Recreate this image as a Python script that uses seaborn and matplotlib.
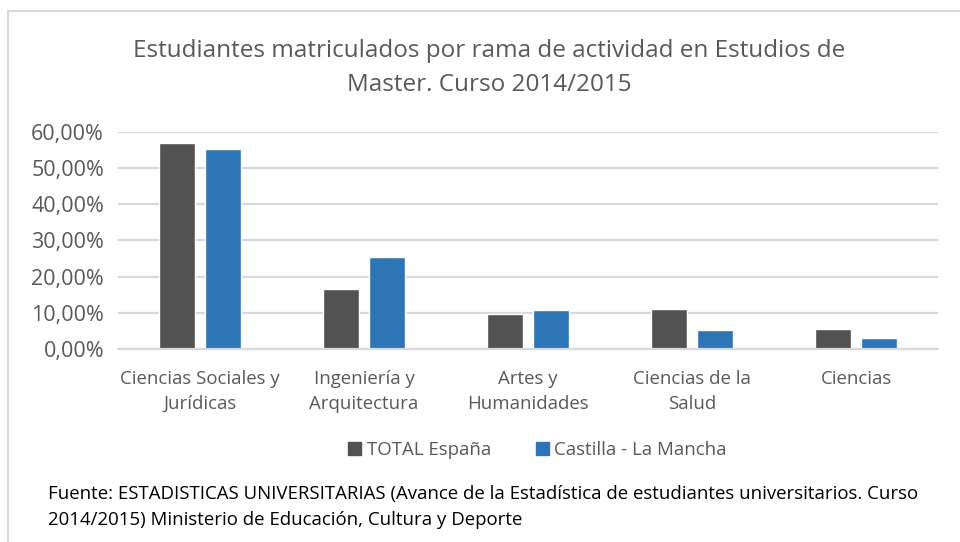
import numpy as np
import pandas as pd
import matplotlib
matplotlib.use("Agg")
import matplotlib.pyplot as plt
from matplotlib.patches import Rectangle
from matplotlib.ticker import FuncFormatter
import seaborn as sns

# ── Data ──────────────────────────────────────────────────────────────────────
categories = ["Ciencias Sociales y\nJurídicas", "Ingeniería y\nArquitectura",
              "Artes y\nHumanidades", "Ciencias de la\nSalud", "Ciencias"]
series = ["TOTAL España", "Castilla - La Mancha"]
total_espana = [56.8, 16.6, 9.8, 11.0, 5.4]
castilla_lm = [55.2, 25.4, 10.7, 5.2, 3.1]
y_ticks = [0, 10, 20, 30, 40, 50, 60]

title = ("Estudiantes matriculados por rama de actividad en Estudios de\n"
         "Master. Curso 2014/2015")
source = ("Fuente: ESTADISTICAS UNIVERSITARIAS (Avance de la Estadística de estudiantes universitarios. Curso\n"
          "2014/2015) Ministerio de Educación, Cultura y Deporte")

df = pd.DataFrame({
    "rama": categories * 2,
    "serie": [series[0]] * len(categories) + [series[1]] * len(categories),
    "valor": total_espana + castilla_lm,
})

# ── Style ─────────────────────────────────────────────────────────────────────
sns.set_theme(style="white")
plt.rcParams["font.family"] = ["Open Sans", "DejaVu Sans"]
text_col = "#595959"
grid_col = "#D9D9D9"
palette = {series[0]: "#525252", series[1]: "#2E75B6"}

fig = plt.figure(figsize=(9.6, 5.42), dpi=100)
ax = fig.add_axes([118 / 960, 1 - 349 / 542, 820 / 960, (349 - 131.7) / 542])

sns.barplot(data=df, x="rama", y="valor", hue="serie", order=categories,
            hue_order=series, palette=palette, width=0.56, gap=0.21,
            saturation=1, ax=ax, legend=False)

ax.set_ylim(0, 60)
ax.set_xlim(-0.5, len(categories) - 0.5)
ax.set_yticks(y_ticks)
ax.yaxis.set_major_formatter(FuncFormatter(lambda v, _: f"{v:.2f}%".replace(".", ",")))
ax.yaxis.grid(True, color=grid_col, lw=1.6)
ax.set_axisbelow(True)
for s in ["top", "right", "left"]:
    ax.spines[s].set_visible(False)
ax.spines["bottom"].set_color(grid_col)
ax.spines["bottom"].set_linewidth(1.6)
ax.set_xlabel("")
ax.set_ylabel("")
ax.tick_params(axis="y", labelsize=15.5, colors=text_col, length=0, pad=10)
ax.tick_params(axis="x", labelsize=13.4, colors=text_col, length=0, pad=15)
for lbl in ax.get_xticklabels():
    lbl.set_linespacing(1.5)

# title
fig.text(0.51, 1 - 68 / 542, title, ha="center", va="center", fontsize=17.5,
         color=text_col, linespacing=1.6)

# legend
handles = [Rectangle((0, 0), 1, 1, color=palette[s]) for s in series]
fig.legend(handles, series, loc="center", bbox_to_anchor=(0.56, 1 - 450 / 542),
           ncol=2, frameon=False, fontsize=13.4, labelcolor=text_col,
           handlelength=0.7, handleheight=0.7, handletextpad=0.3,
           columnspacing=2.4)

# source note
fig.text(48 / 960, 1 - 507 / 542, source, ha="left", va="center", fontsize=13.4,
         color="#000000", linespacing=1.55)

# chart frame
fig.patches.append(Rectangle((8 / 960, -0.05), 1.1, 1 - 11 / 542 + 0.05,
                             transform=fig.transFigure, fill=False,
                             edgecolor=grid_col, lw=1.5))

fig.savefig("out.png", dpi=100)
plt.close(fig)
